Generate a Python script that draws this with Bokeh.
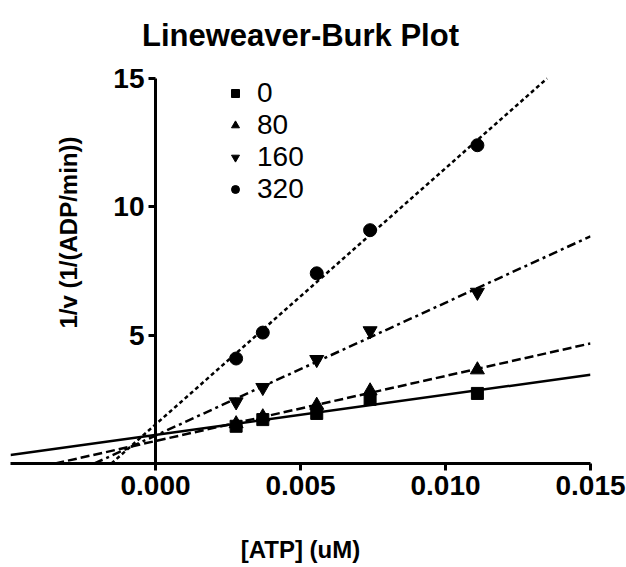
import numpy as np
from bokeh.plotting import figure
from bokeh.models import (Range1d, FixedTicker, NumeralTickFormatter,
                          Label, Legend, LegendItem)
from bokeh.embed import file_html
from bokeh.resources import INLINE

# ---- data ----
atp_inv = [0.00278, 0.0037, 0.00556, 0.0074, 0.0111]      # 1/[ATP]
v_inv_0 = [1.45, 1.71, 1.95, 2.50, 2.73]
v_inv_80 = [1.55, 1.82, 2.27, 2.83, 3.65]
v_inv_160 = [2.40, 2.96, 4.05, 5.17, 6.67]
v_inv_320 = [4.09, 5.10, 7.41, 9.09, 12.40]
series_labels = ["0", "80", "160", "320"]
x_ticks = [0.0, 0.005, 0.010, 0.015]
y_ticks = [5, 10, 15]

X_MIN, X_MAX = -0.005, 0.015
Y_MIN, Y_MAX = 0.0, 15.0
Y_VIEW_MAX = 15.584          # a little head-room so the "15" label is not clipped

FONT = "Liberation Sans"

p = figure(width=626, height=567, output_backend="svg", toolbar_location=None,
           x_range=Range1d(X_MIN, X_MAX), y_range=Range1d(Y_MIN, Y_VIEW_MAX),
           title="Lineweaver-Burk Plot",
           min_border_left=10, min_border_right=36,
           min_border_top=63, min_border_bottom=104)
p.outline_line_color = None
p.grid.visible = False
p.background_fill_color = "white"

p.title.align = "center"
p.title.text_font = FONT
p.title.text_font_size = "31px"
p.title.text_font_style = "bold"
p.title.text_color = "black"
p.title.text_line_height = 0.7
p.title.standoff = 22

# axes
for ax in (p.xaxis[0], p.yaxis[0]):
    ax.axis_line_width = 3
    ax.axis_line_color = "black"
    ax.major_tick_line_width = 3
    ax.major_tick_line_color = "black"
    ax.major_tick_in = 0
    ax.major_tick_out = 7
    ax.minor_tick_line_color = None
    ax.major_label_text_font = FONT
    ax.major_label_text_font_size = "28px"
    ax.major_label_text_font_style = "bold"
    ax.major_label_text_color = "black"

p.xaxis.ticker = FixedTicker(ticks=x_ticks)
p.xaxis.formatter = NumeralTickFormatter(format="0.000")
p.xaxis.major_label_standoff = 5
p.xaxis.axis_label = "[ATP] (uM)"
p.xaxis.axis_label_text_font = FONT
p.xaxis.axis_label_text_font_size = "24px"
p.xaxis.axis_label_text_font_style = "bold"
p.xaxis.axis_label_text_color = "black"
p.xaxis.axis_label_standoff = 38

p.yaxis.fixed_location = 0
p.yaxis.bounds = (Y_MIN, Y_MAX)
p.yaxis.ticker = FixedTicker(ticks=y_ticks)
p.yaxis.major_label_standoff = 4

# y axis title placed inside the frame, like the reference
p.add_layout(Label(x=-0.0030, y=9.0, text="1/v (1/(ADP/min))", angle=np.pi / 2,
                   text_align="center", text_baseline="middle",
                   text_font=FONT, text_font_size="24px", text_font_style="bold",
                   text_color="black"))


def fit_segment(xs, ys):
    """Least-squares line, clipped to the plotted box [X_MIN,X_MAX]x[Y_MIN,Y_MAX]."""
    m, b = np.polyfit(xs, ys, 1)
    xa, xb = X_MIN, X_MAX
    if m > 0:
        xa = max(xa, (Y_MIN - b) / m)
        xb = min(xb, (Y_MAX - b) / m)
    return [xa, xb], [m * xa + b, m * xb + b]


series = [v_inv_0, v_inv_80, v_inv_160, v_inv_320]
markers = ["square", "triangle", "inverted_triangle", "circle"]
sizes = [12, 14, 14, 13]
dashes = ["solid", "9 4", "9 4 3 4", "4 3"]

items = []
for lab, ys, mk, sz, dash in zip(series_labels, series, markers, sizes, dashes):
    lx, ly = fit_segment(atp_inv, ys)
    p.line(lx, ly, line_color="black", line_width=2.5, line_dash=dash)
    r = p.scatter(atp_inv, ys, marker=mk, size=sz, color="black")
    items.append(LegendItem(label=lab, renderers=[r]))

legend = Legend(items=items, location=(215, 258), orientation="vertical",
                background_fill_alpha=0, border_line_alpha=0,
                padding=0, margin=0, spacing=0,
                glyph_width=20, glyph_height=32, label_height=32,
                label_standoff=12, label_text_font=FONT,
                label_text_font_size="28px", label_text_color="black",
                label_text_baseline="middle")
p.add_layout(legend)

open("out.html", "w").write(file_html(p, INLINE))
